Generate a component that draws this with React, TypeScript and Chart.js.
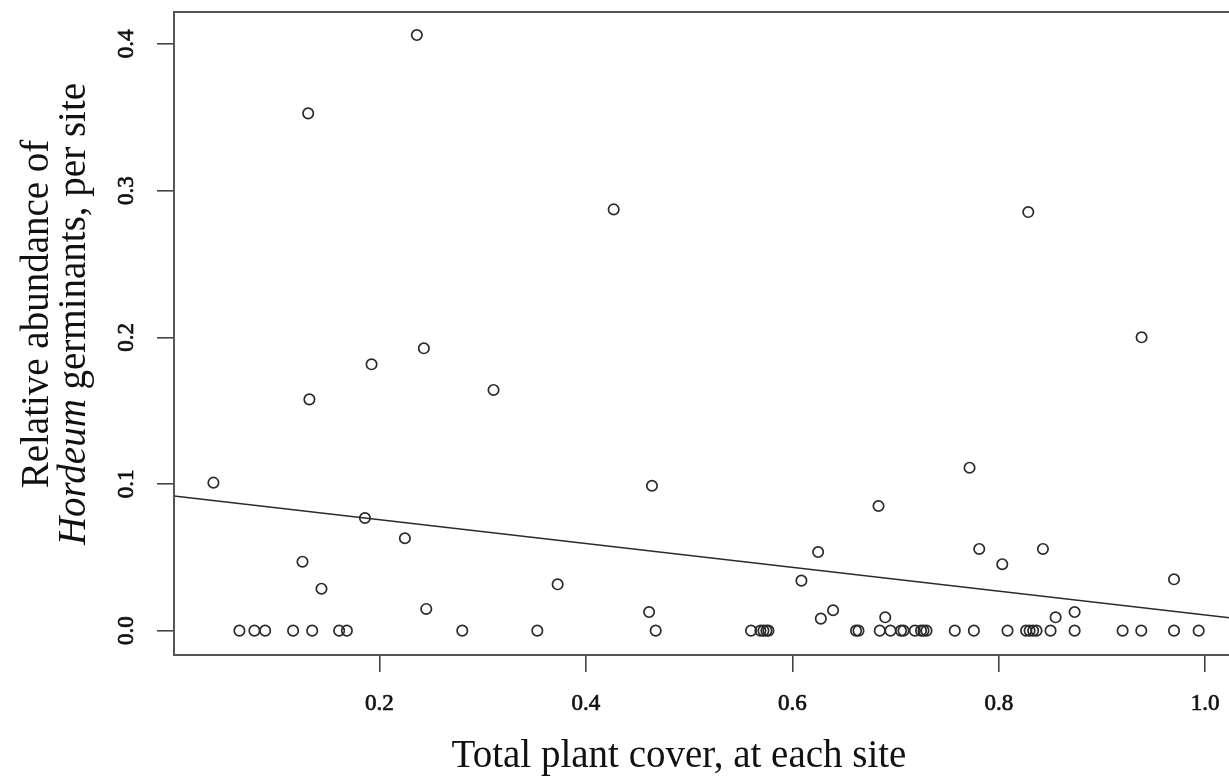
import React, { useEffect, useRef } from "react";
import { Chart, registerables } from "chart.js";

Chart.register(...registerables);

// Total plant cover at each site (x) and relative abundance of Hordeum germinants (y)
const plantCover = [
  0.0391, 0.0643, 0.0788, 0.0892, 0.1163, 0.1254, 0.1309, 0.1321, 0.1348, 0.1438,
  0.1609, 0.1684, 0.1859, 0.1923, 0.2246, 0.2362, 0.243, 0.2453, 0.2802, 0.3105,
  0.3529, 0.3726, 0.4269, 0.4612, 0.464, 0.4676, 0.56, 0.5691, 0.572, 0.5749,
  0.5768, 0.6088, 0.625, 0.6276, 0.6395, 0.6617, 0.6641, 0.6835, 0.6847, 0.69,
  0.6951, 0.7053, 0.7077, 0.7187, 0.7247, 0.7271, 0.73, 0.7574, 0.7717, 0.7759,
  0.7811, 0.8034, 0.8085, 0.8265, 0.8286, 0.8299, 0.8333, 0.8366, 0.8428, 0.8502,
  0.8551, 0.8735, 0.8735, 0.92, 0.9381, 0.9384, 0.9698, 0.9698, 0.9937,
];
const hordeumAbundance = [
  0.1009, 0, 0, 0, 0, 0.047, 0.3527, 0.1577, 0, 0.0286,
  0, 0, 0.0768, 0.1816, 0.063, 0.4061, 0.1925, 0.0148, 0, 0.1641,
  0, 0.0316, 0.2872, 0.0127, 0.0988, 0, 0, 0, 0, 0,
  0, 0.0341, 0.0536, 0.0082, 0.0139, 0, 0, 0.085, 0, 0.0091,
  0, 0, 0, 0, 0, 0, 0, 0, 0.1111, 0,
  0.0557, 0.0453, 0, 0, 0.2854, 0, 0, 0, 0.0557, 0,
  0.0091, 0.0127, 0, 0, 0, 0.2, 0.035, 0, 0,
];

// fitted regression line, endpoints at the plot edges
const fitX = [0.0009, 1.0319];
const fitY = [0.0918, 0.0081];

const xTicks = [0.2, 0.4, 0.6, 0.8, 1.0];
const yTicks = [0.0, 0.1, 0.2, 0.3, 0.4];

const xTitle = "Total plant cover, at each site";
const yTitleLine1 = "Relative abundance of";
const yTitleItalic = "Hordeum";
const yTitleRest = " germinants, per site";

const FONT = "'Liberation Serif', 'Times New Roman', serif";
const INK = "#2a2a2a";
const TITLE_SIZE = 39;

const framePlugin = {
  id: "frameAndTitles",
  afterDraw(chart: any) {
    const { ctx, chartArea } = chart;
    ctx.save();
    ctx.strokeStyle = "#555555";
    ctx.lineWidth = 2;
    ctx.strokeRect(chartArea.left, chartArea.top, chartArea.right - chartArea.left, chartArea.bottom - chartArea.top);

    ctx.fillStyle = "#111111";
    // x axis title
    ctx.font = `${TITLE_SIZE}px ${FONT}`;
    ctx.textAlign = "center";
    ctx.textBaseline = "alphabetic";
    ctx.fillText(xTitle, 679, 767);

    // y axis title (two lines, rotated)
    ctx.translate(0, 314);
    ctx.rotate(-Math.PI / 2);
    ctx.textAlign = "center";
    ctx.fillText(yTitleLine1, 0, 48);
    ctx.font = `italic ${TITLE_SIZE}px ${FONT}`;
    const wi = ctx.measureText(yTitleItalic).width;
    ctx.font = `${TITLE_SIZE}px ${FONT}`;
    const wr = ctx.measureText(yTitleRest).width;
    const start = -(wi + wr) / 2;
    ctx.textAlign = "left";
    ctx.font = `italic ${TITLE_SIZE}px ${FONT}`;
    ctx.fillText(yTitleItalic, start, 85);
    ctx.font = `${TITLE_SIZE}px ${FONT}`;
    ctx.fillText(yTitleRest, start + wi, 85);
    ctx.restore();
  },
};

export default function App() {
  const ref = useRef<HTMLCanvasElement | null>(null);

  useEffect(() => {
    document.body.style.margin = "0";
    const canvas = ref.current!;
    const chart = new Chart(canvas, {
      type: "scatter",
      data: {
        datasets: [
          {
            type: "scatter",
            data: plantCover.map((x, i) => ({ x, y: hordeumAbundance[i] })),
            pointStyle: "circle",
            pointRadius: 5.2,
            pointBorderWidth: 1.7,
            borderColor: INK,
            backgroundColor: "rgba(0,0,0,0)",
          },
          {
            type: "line",
            data: fitX.map((x, i) => ({ x, y: fitY[i] })),
            borderColor: INK,
            borderWidth: 1.7,
            pointRadius: 0,
            fill: false,
          } as any,
        ],
      },
      options: {
        responsive: false,
        animation: false,
        devicePixelRatio: 1,
        layout: { padding: { top: 12, right: 0, left: 0, bottom: 0 } },
        plugins: { legend: { display: false }, tooltip: { enabled: false } },
        scales: {
          x: {
            type: "linear",
            min: 0.0009,
            max: 1.0319,
            afterBuildTicks: (s: any) => {
              s.ticks = xTicks.map((v) => ({ value: v }));
            },
            afterFit: (s: any) => {
              s.height = 122;
              s.paddingLeft = 0;
              s.paddingRight = 0;
            },
            grid: { drawOnChartArea: false, drawTicks: true, tickLength: 17, color: "#444444", lineWidth: 1.6 },
            border: { display: true, color: "#555555", width: 2 },
            ticks: {
              padding: 18,
              color: "#111111",
              textStrokeColor: "#111111",
              textStrokeWidth: 0.7,
              font: { family: FONT, size: 23 },
              maxRotation: 0,
              minRotation: 0,
              autoSkip: false,
              callback: (v: any) => Number(v).toFixed(1),
            },
          },
          y: {
            type: "linear",
            min: -0.0166,
            max: 0.4218,
            afterBuildTicks: (s: any) => {
              s.ticks = yTicks.map((v) => ({ value: v }));
            },
            afterFit: (s: any) => {
              s.width = 174;
              s.paddingTop = 0;
              s.paddingBottom = 0;
            },
            grid: { drawOnChartArea: false, drawTicks: true, tickLength: 17, color: "#444444", lineWidth: 1.6 },
            border: { display: true, color: "#555555", width: 2 },
            ticks: {
              padding: 16,
              color: "#111111",
              textStrokeColor: "#111111",
              textStrokeWidth: 0.7,
              font: { family: FONT, size: 23 },
              minRotation: 90,
              maxRotation: 90,
              crossAlign: "center",
              autoSkip: false,
              callback: (v: any) => Number(v).toFixed(1),
            },
          },
        },
      },
      plugins: [framePlugin],
    });
    return () => chart.destroy();
  }, []);

  return (
    <div style={{ position: "fixed", left: 0, top: 0, width: 1229, height: 777, overflow: "hidden", background: "#fff" }}>
      <canvas ref={ref} width={1245} height={777} style={{ width: 1245, height: 777, display: "block" }} />
    </div>
  );
}
